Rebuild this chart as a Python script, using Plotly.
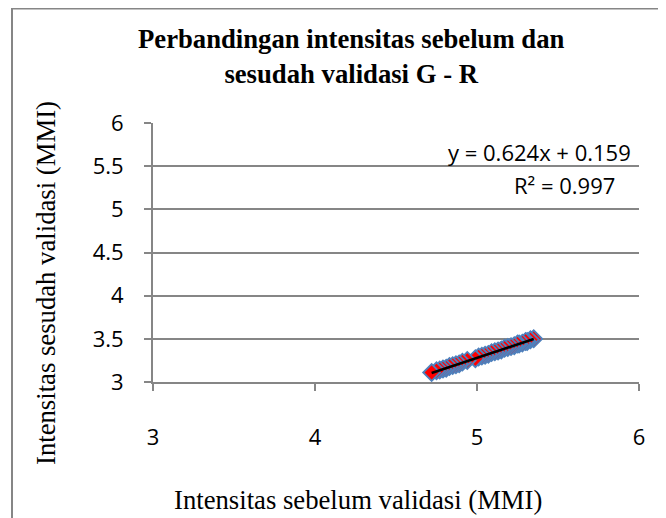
import plotly.graph_objects as go

# Data
x_before = [5.35, 5.33, 5.31, 5.30, 5.28, 5.26, 5.25, 5.23, 5.21, 5.19, 5.17, 5.15,
            5.13, 5.11, 5.09, 5.07, 5.05, 5.03, 5.01, 4.99, 4.94, 4.91, 4.89,
            4.87, 4.85, 4.83, 4.81, 4.79, 4.77, 4.75, 4.72]
y_after = [3.50, 3.49, 3.47, 3.47, 3.45, 3.44, 3.44, 3.42, 3.41, 3.40, 3.39, 3.37,
           3.36, 3.35, 3.34, 3.32, 3.31, 3.30, 3.29, 3.27, 3.25, 3.23, 3.21,
           3.20, 3.19, 3.18, 3.16, 3.15, 3.14, 3.13, 3.11]
slope = 0.624
intercept = 0.159
r2 = 0.997
x_ticks = [3, 4, 5, 6]
y_ticks = [3, 3.5, 4, 4.5, 5, 5.5, 6]

# page body has an 8px margin, so figure coords = screenshot coords - 8
W, H = 658, 510
ml, mr, mt, mb = 145, 27, 115, 136
pw, ph = W - ml - mr, H - mt - mb

def px(x):
    return (x - ml) / pw

def py(y):
    return (H - mb - y) / ph

xmin, xmax = min(x_before), max(x_before)

fig = go.Figure()
fig.add_trace(go.Scatter(
    x=x_before, y=y_after, mode="markers",
    marker=dict(symbol="diamond", size=13, color="#FF0000",
                line=dict(color="#4F81BD", width=1.8)),
    showlegend=False, hoverinfo="x+y"))
fig.add_trace(go.Scatter(
    x=[xmin, xmax], y=[slope * xmin + intercept, slope * xmax + intercept],
    mode="lines", line=dict(color="black", width=2.5), showlegend=False))

sans = "Open Sans"
serif = "Liberation Serif"
tickfont = dict(family=sans, size=22, color="black")

fig.update_layout(
    width=W, height=H,
    margin=dict(l=ml, r=mr, t=mt, b=mb),
    paper_bgcolor="white", plot_bgcolor="white",
    xaxis=dict(range=[3, 6], tickvals=x_ticks, ticktext=[str(v) for v in x_ticks],
               showgrid=False, zeroline=False, showline=True, linecolor="#868686",
               linewidth=2, ticks="outside", ticklen=7, tickwidth=2, tickcolor="#868686",
               tickfont=tickfont, ticklabelstandoff=28),
    yaxis=dict(range=[3, 6], tickvals=y_ticks, ticktext=[f"{v:g}" for v in y_ticks],
               showgrid=True, gridcolor="#868686", gridwidth=2, zeroline=False,
               showline=True, linecolor="#868686", linewidth=2, ticks="outside",
               ticklen=7, tickwidth=2, tickcolor="#868686",
               tickfont=tickfont, ticklabelstandoff=16),
    shapes=[dict(type="rect", xref="paper", yref="paper",
                 x0=px(4), x1=px(720), y0=py(560), y1=py(0.5),
                 line=dict(color="#868686", width=2), layer="above")],
    annotations=[
        dict(text="<b>Perbandingan intensitas sebelum dan<br>sesudah validasi G - R</b>",
             xref="paper", yref="paper", x=px(343), y=py(48), showarrow=False,
             xanchor="center", yanchor="middle",
             font=dict(family=serif, size=26.7, color="black"), align="center"),
        dict(text=f"y = {slope}x + {intercept}", xref="paper", yref="paper",
             x=px(625), y=py(144), xanchor="right", yanchor="middle", showarrow=False,
             font=dict(family=sans, size=22, color="black")),
        dict(text=f"R² = {r2}", xref="paper", yref="paper",
             x=px(556), y=py(177), xanchor="center", yanchor="middle", showarrow=False,
             font=dict(family=sans, size=22, color="black")),
        dict(text="Intensitas sebelum validasi (MMI)", xref="paper", yref="paper",
             x=px(350), y=py(492), xanchor="center", yanchor="middle", showarrow=False,
             font=dict(family=serif, size=26.7, color="black")),
        dict(text="Intensitas sesudah validasi (MMI)", xref="paper", yref="paper",
             x=px(38), y=py(275), xanchor="center", yanchor="middle", showarrow=False,
             textangle=-90,
             font=dict(family=serif, size=26.7, color="black")),
    ],
)

fig.write_html("out.html")
